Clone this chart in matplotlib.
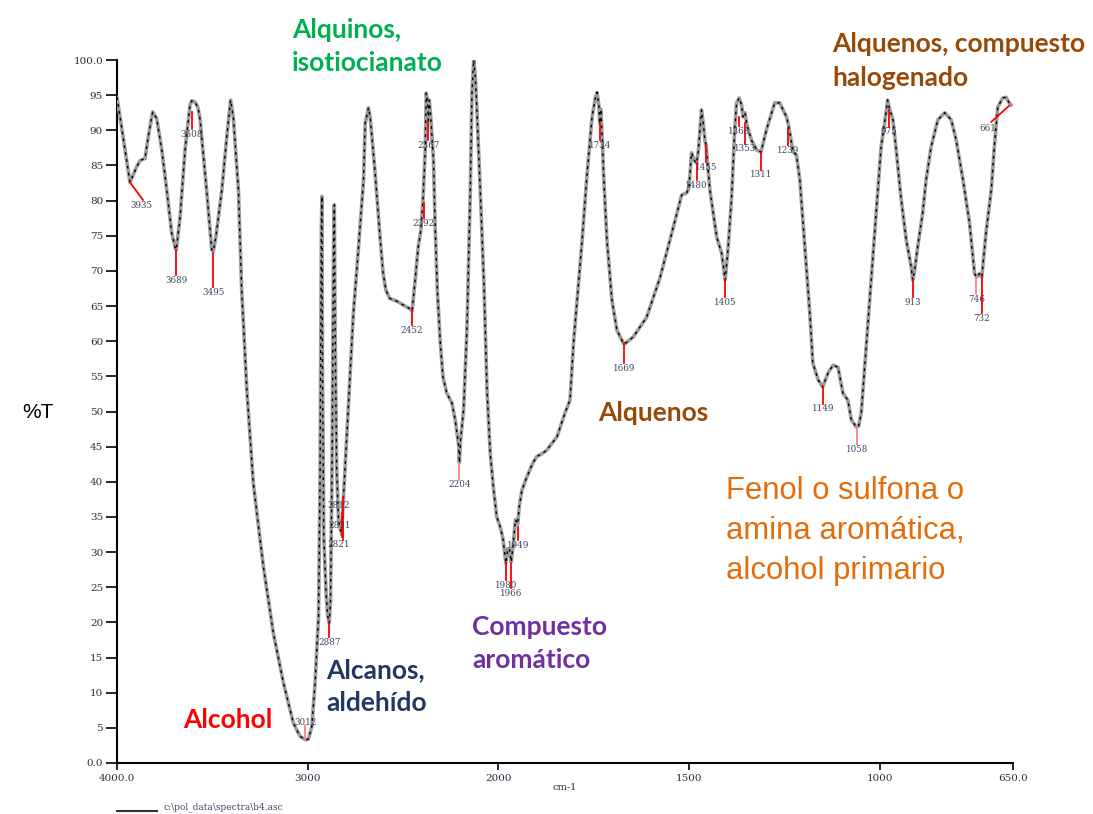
import numpy as np
import matplotlib
matplotlib.use("Agg")
import matplotlib.pyplot as plt

# IR spectrum: wavenumber (cm-1) and %T
wavenumber = [4000, 3984, 3958, 3932, 3897, 3879, 3853, 3836, 3813, 3792, 3765, 3739,
              3713, 3695, 3689, 3669, 3643, 3617, 3608, 3590, 3575, 3564, 3556, 3530,
              3503, 3495, 3481, 3450, 3424, 3404, 3390, 3363, 3346, 3319, 3285, 3232,
              3180, 3127, 3075, 3040, 3012, 2996, 2978, 2961, 2943, 2935, 2928, 2925,
              2922, 2915, 2903, 2895, 2887, 2880, 2872, 2864, 2860, 2856, 2848, 2838,
              2831, 2821, 2815, 2812, 2760, 2733, 2707, 2698, 2681, 2672, 2646, 2619,
              2604, 2590, 2570, 2525, 2490, 2462, 2452, 2436, 2420, 2406, 2395, 2383,
              2378, 2374, 2370, 2367, 2362, 2355, 2340, 2331, 2319, 2304, 2290, 2270,
              2243, 2226, 2208, 2204, 2198, 2182, 2164, 2147, 2138, 2129, 2120, 2112,
              2094, 2075, 2059, 2042, 2025, 2008, 1995, 1988, 1980, 1975, 1970, 1966,
              1961, 1955, 1949, 1945, 1938, 1925, 1910, 1899, 1885, 1873, 1846, 1825,
              1812, 1802, 1780, 1767, 1754, 1745, 1741, 1736, 1734, 1731, 1727, 1724,
              1715, 1702, 1689, 1672, 1669, 1646, 1611, 1576, 1541, 1519, 1506, 1500,
              1493, 1487, 1480, 1475, 1467, 1462, 1458, 1455, 1445, 1427, 1414, 1405,
              1397, 1388, 1380, 1375, 1368, 1362, 1358, 1353, 1348, 1336, 1322, 1311,
              1297, 1275, 1262, 1244, 1239, 1232, 1227, 1218, 1209, 1196, 1183, 1175,
              1161, 1149, 1135, 1122, 1109, 1096, 1083, 1074, 1061, 1055, 1048, 1035,
              1022, 1009, 996, 983, 979, 975, 965, 957, 944, 930, 917, 913,
              908, 900, 887, 878, 865, 847, 829, 812, 799, 781, 764, 751,
              746, 738, 732, 720, 707, 699, 690, 677, 668, 660, 655]
transmittance = [94.7, 91.9, 87.2, 82.6, 84.8, 85.7, 86.0, 89.1, 92.6, 91.7, 87.2, 81.5,
                 75.4, 73.3, 73.0, 77.7, 87.2, 93.6, 94.2, 94.0, 93.2, 91.5, 89.1, 81.5,
                 73.0, 72.8, 74.9, 81.5, 89.1, 94.3, 91.9, 81.5, 67.3, 53.1, 39.8, 27.9,
                 18.5, 11.4, 5.7, 3.8, 3.3, 3.4, 5.2, 11.4, 20.8, 40.0, 76.0, 80.6,
                 55.0, 32.0, 24.0, 21.0, 19.9, 23.0, 42.0, 74.0, 79.4, 62.0, 42.0, 34.5,
                 33.6, 32.5, 36.5, 37.8, 64.0, 73.4, 82.9, 91.0, 93.2, 91.9, 83.9, 74.4,
                 69.7, 67.3, 66.1, 65.6, 65.0, 64.6, 64.3, 68.7, 73.4, 75.8, 80.1, 87.2,
                 95.3, 94.7, 93.6, 91.4, 94.3, 92.2, 85.8, 76.2, 66.9, 59.7, 54.9, 52.6,
                 51.2, 48.8, 45.2, 42.7, 45.9, 50.2, 62.0, 81.1, 95.3, 100.0, 97.5, 92.9,
                 81.1, 68.0, 53.0, 44.0, 39.0, 35.0, 33.6, 32.0, 28.4, 30.5, 30.3, 28.6,
                 31.0, 34.6, 34.0, 36.5, 38.8, 40.7, 42.6, 43.6, 44.0, 44.5, 46.4, 49.8,
                 51.6, 60.2, 74.4, 83.9, 91.9, 94.7, 95.4, 93.5, 91.0, 93.0, 88.6, 83.9,
                 74.4, 65.9, 61.6, 59.7, 59.6, 60.6, 63.4, 69.0, 76.2, 80.8, 81.1, 81.8,
                 86.8, 85.8, 85.3, 87.2, 92.9, 90.8, 88.6, 87.9, 81.5, 74.8, 72.5, 68.7,
                 73.4, 80.5, 90.0, 93.9, 94.6, 93.6, 91.9, 92.5, 90.8, 88.6, 87.2, 86.9,
                 90.0, 93.9, 93.9, 91.9, 90.8, 88.6, 86.9, 86.5, 82.9, 73.4, 64.0, 56.9,
                 54.5, 53.5, 55.5, 56.6, 56.3, 52.6, 51.6, 48.8, 47.8, 47.9, 49.8, 59.2,
                 68.7, 78.2, 87.6, 92.5, 94.3, 93.3, 91.5, 87.6, 80.5, 74.4, 70.6, 68.7,
                 70.1, 73.4, 78.2, 82.9, 87.6, 91.5, 92.5, 91.5, 88.6, 82.9, 76.8, 69.7,
                 69.1, 69.6, 69.1, 75.8, 81.5, 87.6, 93.3, 94.6, 94.7, 93.9, 93.6]

# peak markers: label, position of the red tick and %T where it starts
peak_labels = ["3935", "3689", "3608", "3495", "3012", "2887", "2812", "2831", "2821",
               "2452", "2392", "2367", "2204", "1980", "1966", "1949", "1734", "1669",
               "1480", "1455", "1405", "1368", "1353", "1311", "1239", "1149", "1058",
               "975", "913", "746", "732", "661"]
peak_wn = [3932, 3689, 3608, 3495, 3012, 2887, 2815, 2831, 2821,
           2452, 2392, 2367, 2204, 1980, 1966, 1949, 1734, 1669,
           1480, 1455, 1405, 1368, 1353, 1311, 1239, 1149, 1058,
           975, 913, 746, 732, 660]
peak_T = [82.6, 73.0, 92.6, 72.5, 3.3, 19.9, 37.8, 33.6, 35.6,
          64.4, 79.7, 91.2, 42.7, 28.4, 28.4, 33.6, 91.0, 59.7,
          85.3, 87.9, 68.7, 91.9, 91.0, 86.8, 90.3, 53.5, 47.8,
          92.9, 68.7, 69.1, 69.1, 93.5]

x_ticks = [4000, 3000, 2000, 1500, 1000, 650]
x_ticklabels = ["4000.0", "3000", "2000", "1500", "1000", "650.0"]
y_ticks = list(range(0, 101, 5))
y_ticklabels = ["0.0"] + [str(v) for v in y_ticks[1:-1]] + ["100.0"]


# the spectrometer doubles the scale below 2000 cm-1
def fwd(x):
    x = np.asarray(x, dtype=float)
    return np.where(x >= 2000, x, 2 * x - 2000)


def inv(u):
    u = np.asarray(u, dtype=float)
    return np.where(u >= 2000, u, (u + 2000) / 2)


W, H = 1093, 814
fig = plt.figure(figsize=(W / 100, H / 100), dpi=100)
ax = fig.add_axes([117 / W, 1 - 763 / H, (1013 - 117) / W, (763 - 60) / H])
ax.set_xscale("function", functions=(fwd, inv))
ax.set_xlim(4000, 650)
ax.set_ylim(0, 100)

ax.plot(wavenumber, transmittance, color="#9c9c9c", lw=2.6, solid_joinstyle="round", zorder=3)
ax.plot(wavenumber, transmittance, color="black", lw=1.0, dashes=(2, 3), zorder=4)

# red peak ticks with the little numbers under them
tick_len = {"3012": -2.1, "2887": 2.0, "2812": 6.1, "2821": 3.5, "2452": 2.1,
            "2392": 2.2, "2367": 2.6, "2204": 2.4, "1980": 2.4, "1966": 3.5,
            "1949": 1.9, "1669": 2.8, "3495": 4.8, "3689": 3.6, "732": 5.1,
            "1368": 1.3, "1353": 2.9}
lbl_font = dict(family="DejaVu Serif", fontsize=6.3, color="#3f4660")
for lab, w, t in zip(peak_labels, peak_wn, peak_T):
    if lab == "3935":
        ax.plot([w, 3864], [t, 80.1], color="red", lw=1.3, zorder=5)
        ax.text(3874, 80.0, lab, ha="center", va="top", zorder=6, **lbl_font)
        continue
    if lab == "661":
        ax.plot([w, 707], [t, 91.2], color="red", lw=1.3, zorder=5)
        ax.text(717, 90.9, lab, ha="center", va="top", zorder=6, **lbl_font)
        continue
    if lab in ("2812", "2831", "2821"):
        if lab != "2831":
            ax.plot([w, w], [t, t - tick_len[lab]], color="red", lw=1.3, zorder=5)
        ty = {"2812": 37.3, "2831": 34.4, "2821": 31.7}[lab]
        ax.text(2835, ty, lab, ha="center", va="top", zorder=6, **lbl_font)
        continue
    d = tick_len.get(lab, 2.4)
    col = "#ff8080" if lab in ("3012", "746", "1058", "2204") else "red"
    ax.plot([w, w], [t, t - d], color=col, lw=1.3, zorder=5)
    if d < 0:
        ax.text(w, t - d - 0.3, lab, ha="center", va="bottom", zorder=6, **lbl_font)
    else:
        ax.text(w, t - d - 0.1, lab, ha="center", va="top", zorder=6, **lbl_font)

for s in ("top", "right"):
    ax.spines[s].set_visible(False)
for s in ("left", "bottom"):
    ax.spines[s].set_linewidth(1.5)
ax.set_xticks(x_ticks)
ax.set_xticklabels(x_ticklabels)
ax.set_yticks(y_ticks)
ax.set_yticklabels(y_ticklabels)
ax.xaxis.set_minor_locator(matplotlib.ticker.NullLocator())
ax.tick_params(axis="y", direction="out", length=8, width=1.2, pad=2)
ax.tick_params(axis="x", direction="out", length=5, width=1.2, pad=3)
for lab in ax.get_xticklabels() + ax.get_yticklabels():
    lab.set_family("DejaVu Serif")
    lab.set_fontsize(7.5)
    lab.set_color("#2a2d40")

# axis labels and file caption
fig.text(565 / W, 1 - 788 / H, "cm-1", ha="center", va="center",
         family="DejaVu Serif", fontsize=7, color="#2a2d40")
fig.text(22 / W, 1 - 412 / H, "%T", ha="left", va="center",
         family="Liberation Sans", fontsize=15, color="black")
fig.add_artist(plt.Line2D([117 / W, 157 / W], [1 - 811 / H, 1 - 811 / H],
                          color="#333333", lw=1.5))
fig.text(163 / W, 1 - 807 / H, "c:\\pol_data\\spectra\\b4.asc", ha="left", va="center",
         family="DejaVu Serif", fontsize=6.5, color="#3f4660")

# functional-group annotations
bold = dict(family="Lato", fontweight="bold", fontsize=19, linespacing=1.47,
            ha="left", va="center")
fig.text(292 / W, 1 - 46.5 / H, "Alquinos,\nisotiocianato", color="#00b050", **bold)
fig.text(832 / W, 1 - 61 / H, "Alquenos, compuesto\nhalogenado", color="#984807", **bold)
fig.text(598 / W, 1 - 413 / H, "Alquenos", color="#984807", **bold)
fig.text(472 / W, 1 - 643.5 / H, "Compuesto\naromático", color="#7030a0", **bold)
fig.text(326 / W, 1 - 686.5 / H, "Alcanos,\naldehído", color="#1f3864", **bold)
fig.text(183 / W, 1 - 720 / H, "Alcohol", color="#ff0000", **bold)
fig.text(726 / W, 1 - 531 / H, "Fenol o sulfona o\namina aromática,\nalcohol primario",
         color="#e46c0a", family="Liberation Sans", fontsize=22.3, linespacing=1.45,
         ha="left", va="center")

fig.savefig("out.png", dpi=100)
